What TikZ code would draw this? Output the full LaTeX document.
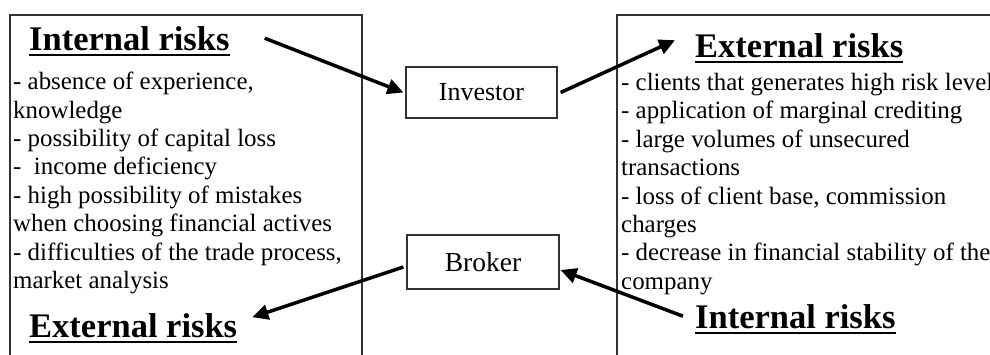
\documentclass[tikz,border=0pt]{standalone}
\usepackage{fontspec}
\setmainfont{Liberation Serif}
\usetikzlibrary{arrows.meta}

\tikzset{
  panel/.style={draw=black!80, line width=1.2pt},
  rolebox/.style={draw=black!80, line width=1.2pt, inner sep=0pt,
    minimum width=151pt, minimum height=51pt, font=\fontsize{26}{30}\selectfont},
  riskhead/.style={inner sep=0pt, anchor=base west, font=\fontsize{34.5}{40}\selectfont\bfseries},
  risklist/.style={inner sep=0pt, anchor=north west, align=left, font=\fontsize{24.9}{28.4}\selectfont},
  riskarrow/.style={line width=3.5pt, -{Triangle[length=16pt,width=15pt]}},
  headline/.style={line width=2pt}
}

\begin{document}
\begin{tikzpicture}[x=1pt, y=-1pt]
                  \clip (0,0) rectangle (990,354);

                  % Draw the two open panels
                  \draw[panel] (10,360) -- (10,15) -- (362,15) -- (362,360);
                  \draw[panel] (617,360) -- (617,15) -- (1000,15);

                  % Participants
                  \node[rolebox] (investor) at (481.5,92.5) {Investor};
                  \node[rolebox, minimum width=152pt, minimum height=54pt, font=\fontsize{27.5}{32}\selectfont] (broker) at (483,262) {Broker};

                  % Headings
                  \node[riskhead] (intL) at (29,50) {Internal risks};
                  \node[riskhead] (extR) at (695,57) {External risks};
                  \node[riskhead] (extL) at (29,337) {External risks};
                  \node[riskhead] (intR) at (695,328) {Internal risks};
                  \foreach \h in {intL,extR,extL,intR}
                    \draw[headline] ([yshift=-5pt]\h.base west) -- ([yshift=-5pt]\h.base east);

                  % Lists of risks
                  \node[risklist] (listL) at (13,72) {- absence of experience,\\knowledge\\- possibility of capital loss\\-\ \ income deficiency\\- high possibility of mistakes\\when choosing financial actives\\- difficulties of the trade process,\\market analysis};
                  \node[risklist] (listR) at (621,73) {- clients that generates high risk level\\- application of marginal crediting\\- large volumes of unsecured\\transactions\\- loss of client base, commission\\charges\\- decrease in financial stability of the\\company};

                  % Arrows
                  \draw[riskarrow] ([xshift=35pt]intL.east) -- ([xshift=-2pt]investor.west);
                  \draw[riskarrow] ([xshift=3pt]investor.east) -- ([shift={(-20pt,5pt)}]extR.west);
                  \draw[riskarrow] ([shift={(-3pt,-5pt)}]broker.west) -- ([shift={(15pt,8pt)}]extL.east);
                  \draw[riskarrow] ([xshift=-12pt]intR.west) -- ([shift={(1pt,-8pt)}]broker.east);

              \end{tikzpicture}
\end{document}
